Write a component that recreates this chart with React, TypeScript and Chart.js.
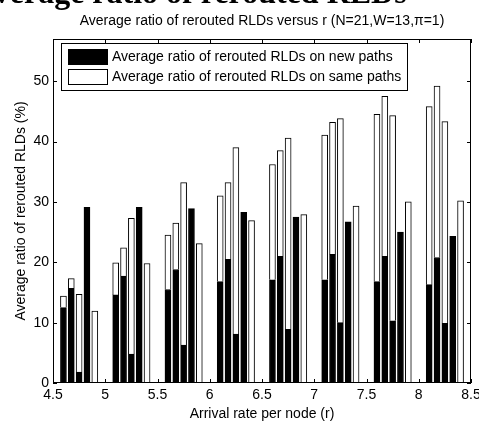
import React, { useEffect, useRef } from 'react';
import { Chart, registerables } from 'chart.js';

Chart.register(...registerables);

const FONT = '"Liberation Sans", Arial, Helvetica, sans-serif';

const pageHeading = 'Average ratio of rerouted RLDs';
const chartTitle = 'Average ratio of rerouted RLDs versus r (N=21,W=13,\u03c0=1)';
const xTitle = 'Arrival rate per node (r)';
const yTitle = 'Average ratio of rerouted RLDs (%)';
const seriesNames = [
  'Average ratio of rerouted RLDs on new paths',
  'Average ratio of rerouted RLDs on same paths',
];

const xPositions = [
  4.6, 4.675, 4.75, 4.825, 4.9,
  5.1, 5.175, 5.25, 5.325, 5.4,
  5.6, 5.675, 5.75, 5.825, 5.9,
  6.1, 6.175, 6.25, 6.325, 6.4,
  6.6, 6.675, 6.75, 6.825, 6.9,
  7.1, 7.175, 7.25, 7.325, 7.4,
  7.6, 7.675, 7.75, 7.825, 7.9,
  8.1, 8.175, 8.25, 8.325, 8.4,
];

const newPaths = [
  12.5, 15.7, 1.8, 29.1, 0,
  14.6, 17.7, 4.8, 29.1, 0,
  15.5, 18.8, 6.3, 28.9, 0,
  16.8, 20.5, 8.1, 28.3, 0,
  17.1, 21.0, 8.9, 27.5, 0,
  17.1, 21.3, 10.0, 26.7, 0,
  16.8, 21.0, 10.3, 25.0, 0,
  16.3, 20.8, 9.9, 24.3, 0,
];

const samePaths = [
  1.9, 1.6, 12.9, 0, 11.9,
  5.3, 4.7, 22.5, 0, 19.8,
  9.0, 7.7, 26.9, 0, 23.1,
  14.2, 12.7, 30.9, 0, 26.9,
  19.1, 17.5, 31.7, 0, 27.9,
  24.0, 21.9, 33.8, 0, 29.3,
  27.7, 26.5, 34.0, 0, 30.0,
  29.5, 28.4, 33.4, 0, 30.2,
];

const xTicks = [4.5, 5, 5.5, 6, 6.5, 7, 7.5, 8, 8.5];
const xTickLabels = ['4.5', '5', '5.5', '6', '6.5', '7', '7.5', '8', '8.5'];
const yTicks = [0, 10, 20, 30, 40, 50];
const yTickLabels = ['0', '10', '20', '30', '40', '50'];

const TICK_LEN = 4;

const framePlugin = {
  id: 'matlabFrame',
  afterDraw(chart: any) {
    const { ctx, chartArea: a, scales } = chart;
    const x = scales.x;
    const y = scales.y;
    ctx.save();
    ctx.strokeStyle = '#000';
    ctx.lineWidth = 1;
    // box
    ctx.strokeRect(a.left + 0.5, a.top + 0.5, a.right - a.left - 1, a.bottom - a.top - 1);
    // inward ticks
    ctx.beginPath();
    for (const v of xTicks) {
      const px = Math.round(x.getPixelForValue(v)) + 0.5;
      ctx.moveTo(px, a.bottom);
      ctx.lineTo(px, a.bottom - TICK_LEN);
      ctx.moveTo(px, a.top);
      ctx.lineTo(px, a.top + TICK_LEN);
    }
    for (const v of yTicks) {
      const py = Math.round(y.getPixelForValue(v)) + 0.5;
      ctx.moveTo(a.left, py);
      ctx.lineTo(a.left + TICK_LEN, py);
      ctx.moveTo(a.right, py);
      ctx.lineTo(a.right - TICK_LEN, py);
    }
    ctx.stroke();

    // legend
    const lx = a.left + 8;
    const ly = a.top + 4;
    const lw = 346;
    const lh = 47;
    ctx.fillStyle = '#fff';
    ctx.fillRect(lx, ly, lw, lh);
    ctx.strokeRect(lx + 0.5, ly + 0.5, lw, lh);
    const ds = chart.data.datasets;
    for (let i = 0; i < ds.length; i++) {
      const sy = ly + 6 + i * 20;
      ctx.fillStyle = ds[i].backgroundColor;
      ctx.fillRect(lx + 7, sy, 40, 16);
      ctx.strokeRect(lx + 7.5, sy + 0.5, 39, 15);
      ctx.fillStyle = '#000';
      ctx.font = `14px ${FONT}`;
      ctx.textAlign = 'left';
      ctx.textBaseline = 'middle';
      ctx.fillText(ds[i].label, lx + 51, sy + 8.5);
    }

    // titles
    ctx.fillStyle = '#000';
    ctx.font = `14px ${FONT}`;
    ctx.textAlign = 'center';
    ctx.textBaseline = 'middle';
    ctx.fillText(chartTitle, (a.left + a.right) / 2, 21);
    ctx.textBaseline = 'alphabetic';
    ctx.fillText(xTitle, (a.left + a.right) / 2, 417.5);
    ctx.save();
    ctx.translate(25, (a.top + a.bottom) / 2);
    ctx.rotate(-Math.PI / 2);
    ctx.fillText(yTitle, 0, 0);
    ctx.restore();

    // cut-off heading from the page above
    ctx.font = 'bold 32px "Liberation Serif", "Times New Roman", serif';
    ctx.textAlign = 'left';
    ctx.textBaseline = 'alphabetic';
    ctx.fillText(pageHeading, -27, 2.5);
    ctx.restore();
  },
};

export default function App() {
  const ref = useRef<HTMLCanvasElement>(null);
  useEffect(() => {
    const chart = new Chart(ref.current as HTMLCanvasElement, {
      type: 'bar',
      data: {
        datasets: [
          {
            label: seriesNames[0],
            data: xPositions.map((xv, i) => ({ x: xv, y: newPaths[i] })),
            backgroundColor: '#000000',
            borderColor: '#000000',
            borderWidth: 1,
            barThickness: 6,
          },
          {
            label: seriesNames[1],
            data: xPositions.map((xv, i) => ({ x: xv, y: samePaths[i] })),
            backgroundColor: '#ffffff',
            borderColor: '#000000',
            borderWidth: 1,
            barThickness: 6,
          },
        ],
      } as any,
      options: {
        animation: false,
        responsive: false,
        devicePixelRatio: 1,
        layout: { padding: { left: 0, right: 8, top: 39, bottom: 0 } },
        plugins: {
          legend: { display: false },
          title: { display: false },
          tooltip: { enabled: false },
        },
        scales: {
          x: {
            type: 'linear',
            stacked: true,
            min: 4.5,
            max: 8.5,
            offset: false,
            grid: { display: false, drawTicks: false },
            border: { display: false },
            afterBuildTicks: (s: any) => {
              s.ticks = xTicks.map((v) => ({ value: v }));
            },
            afterFit: (s: any) => {
              s.height = 38;
              s.paddingLeft = 0;
              s.paddingRight = 0;
            },
            ticks: {
              autoSkip: false,
              maxRotation: 0,
              minRotation: 0,
              padding: 4,
              color: '#000',
              font: { family: FONT, size: 14 },
              callback: (_v: any, i: number) => xTickLabels[i],
            },
          },
          y: {
            type: 'linear',
            stacked: true,
            min: 0,
            max: 57,
            grid: { display: false, drawTicks: false },
            border: { display: false },
            afterBuildTicks: (s: any) => {
              s.ticks = yTicks.map((v) => ({ value: v }));
            },
            afterFit: (s: any) => {
              s.width = 53;
              s.paddingTop = 0;
              s.paddingBottom = 0;
            },
            ticks: {
              padding: 4,
              color: '#000',
              font: { family: FONT, size: 14 },
              callback: (_v: any, i: number) => yTickLabels[i],
            },
          },
        },
      } as any,
      plugins: [framePlugin],
    });
    return () => chart.destroy();
  }, []);
  return (
    <div style={{ position: 'absolute', left: 0, top: 0, width: 479, height: 421, background: '#fff' }}>
      <canvas ref={ref} width={479} height={421} style={{ display: 'block', width: 479, height: 421 }} />
    </div>
  );
}
